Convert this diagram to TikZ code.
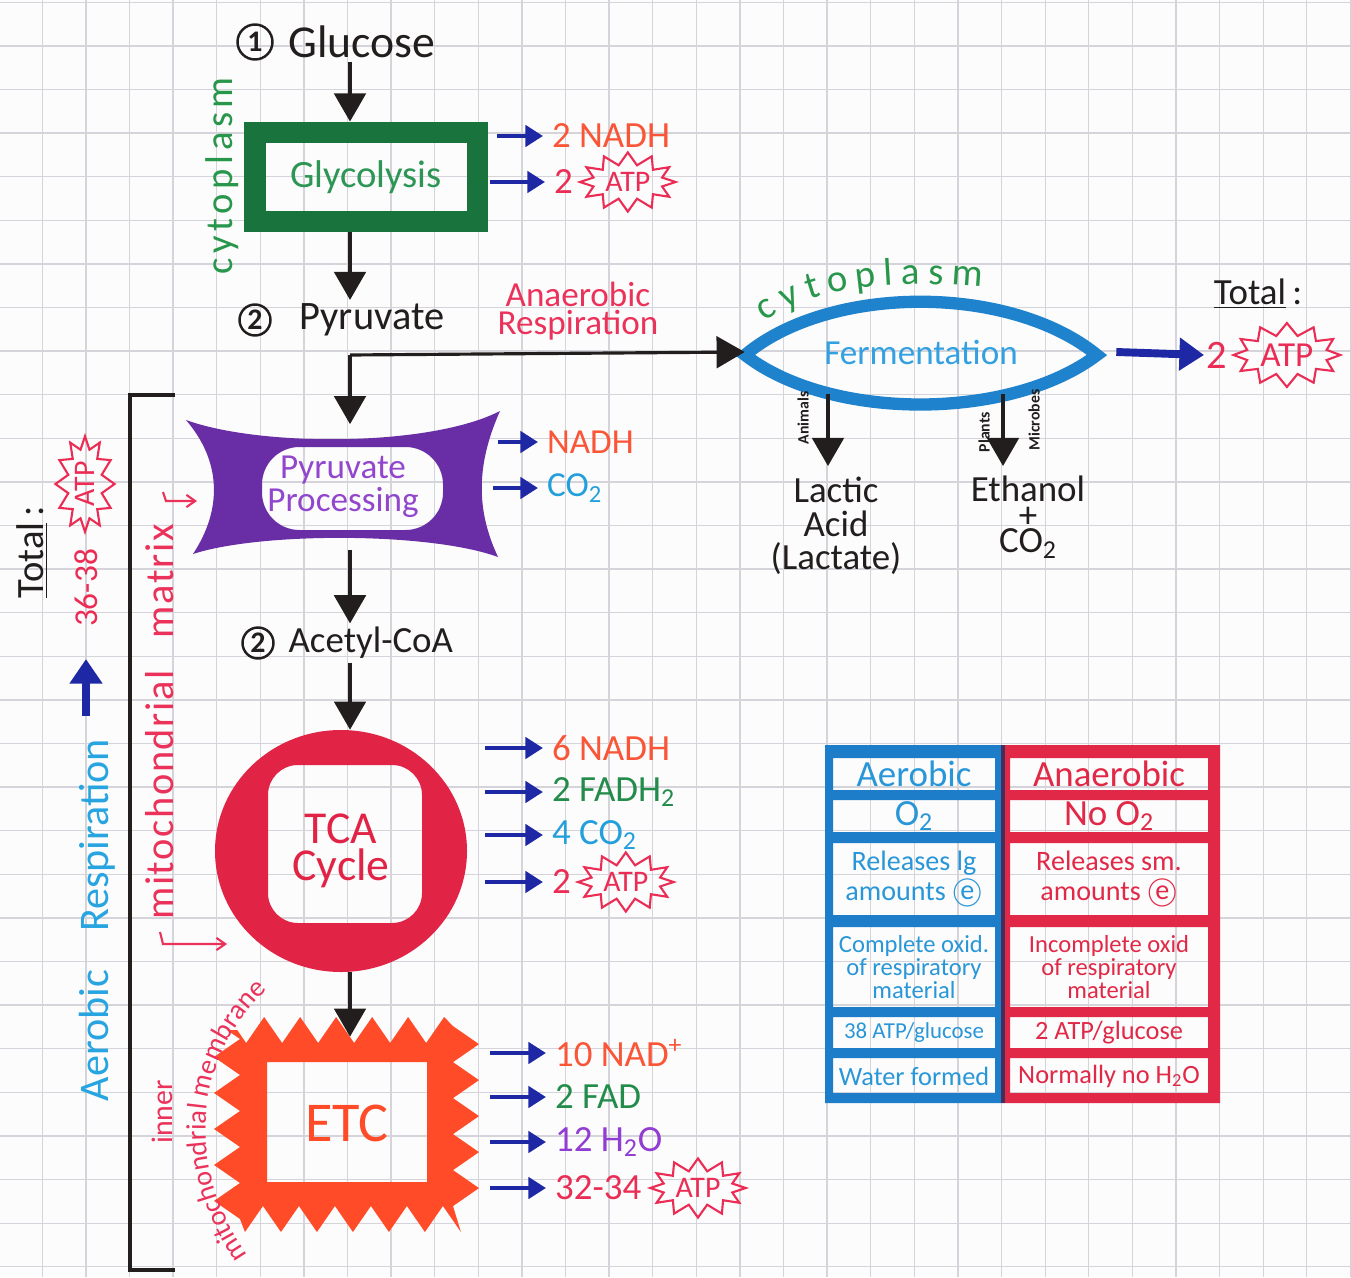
\documentclass[tikz,border=0pt]{standalone}
\usepackage{fontspec}
\setmainfont{Carlito}
\usetikzlibrary{positioning,arrows.meta,shapes.symbols,shapes.geometric,decorations.pathmorphing,decorations.text}

\definecolor{paper}{RGB}{252,252,252}
\definecolor{gridgray}{RGB}{212,212,218}
\definecolor{inkblack}{RGB}{35,30,30}
\definecolor{glydark}{RGB}{25,115,60}
\definecolor{glytext}{RGB}{45,150,85}
\definecolor{cytgreen}{RGB}{40,150,75}
\definecolor{arrowblue}{RGB}{30,40,165}
\definecolor{nadhorange}{RGB}{250,85,55}
\definecolor{atpred}{RGB}{235,45,85}
\definecolor{co2blue}{RGB}{35,160,220}
\definecolor{fadgreen}{RGB}{35,140,75}
\definecolor{h2opurple}{RGB}{145,60,210}
\definecolor{ppurple}{RGB}{105,45,165}
\definecolor{pptext}{RGB}{145,70,205}
\definecolor{tcared}{RGB}{225,35,70}
\definecolor{etcorange}{RGB}{255,75,40}
\definecolor{fermblue}{RGB}{30,130,205}
\definecolor{fermtext}{RGB}{50,160,225}
\definecolor{aerblue}{RGB}{40,165,225}
\definecolor{matred}{RGB}{235,50,90}
\definecolor{tabblue}{RGB}{30,125,200}
\definecolor{tabred}{RGB}{225,40,70}
\definecolor{tabbluetext}{RGB}{40,150,215}
\definecolor{tabmid}{RGB}{70,45,90}

\begin{document}
\begin{tikzpicture}[x=0.02cm, y=-0.02cm,
    font=\fontsize{21}{21}\selectfont,
    gridline/.style={draw=gridgray, line width=0.7pt},
    numcirc/.style={circle, draw=inkblack, line width=1.4pt, inner sep=0pt, minimum size=0.62cm,
      text=inkblack, font=\fontsize{17}{17}\selectfont\bfseries},
    steplbl/.style={text=inkblack, inner sep=2pt},
    flow/.style={draw=inkblack, line width=1.8pt, -{Triangle[length=16pt,width=18pt]}},
    outarrow/.style={draw=arrowblue, line width=2.4pt, shorten >=4pt, -{Triangle[length=10pt,width=12pt]}},
    bigarrow/.style={draw=arrowblue, line width=4.5pt, -{Triangle[length=14pt,width=18pt]}},
    outlbl/.style={anchor=west, inner sep=1pt},
    atpstar/.style={starburst, starburst points=12, starburst point height=7pt, random starburst=0,
      draw=atpred, line width=1.2pt, text=atpred, inner sep=1.5pt, font=\fontsize{17}{17}\selectfont},
    sidetext/.style={rotate=90, inner sep=1pt},
    tinynote/.style={rotate=90, inner sep=0pt, text=inkblack, font=\fontsize{9}{9}\selectfont\bfseries},
    hookarrow/.style={draw=matred, line width=1.2pt, -{Straight Barb[length=5pt,width=7pt]}},
    celltext/.style={align=center, inner sep=0pt}]

  % paper and grid
  \useasboundingbox (0,0) rectangle (1351,1277);
  \fill[paper] (0,0) rectangle (1351,1277);
  \foreach \g in {1,...,31} {\draw[gridline] ({43.6*\g-1.3},0) -- ({43.6*\g-1.3},1277);}
  \foreach \g in {0,...,29} {\draw[gridline] (0,{43.6*\g+2.3}) -- (1351,{43.6*\g+2.3});}

  \coordinate (col) at (350,0);

  % 1 Glucose
  \node[numcirc, minimum size=0.7cm] (n1) at (255,42) {1};
  \node[steplbl, right=0.22cm of n1, font=\fontsize{26}{26}\selectfont] (glucose) {Glucose};

  % Glycolysis box
  \node[draw=glydark, line width=12.5pt, minimum width=4.46cm, minimum height=1.78cm,
    text=glytext, font=\fontsize{22}{22}\selectfont] (gly) at (366,177) {Glycolysis};
  \node[sidetext, text=cytgreen, font=\fontsize{22}{22}\selectfont\addfontfeatures{LetterSpace=12}] (cytleft) at (222,176) {cytoplasm};
  \draw[flow] (glucose.south -| col) -- (gly.north -| col);

  \node[outlbl, text=nadhorange] (glyNADH) at (550,136) {2 NADH};
  \node[outlbl, text=atpred] (glyATP) at (552,182) {2};
  \node[atpstar, right=1pt of glyATP] (glyATPs) {ATP};
  \draw[outarrow, shorten <=0.17cm] (gly.east |- glyNADH) -- (glyNADH);
  \draw[outarrow, shorten <=0.04cm] (gly.east |- glyATP) -- (glyATP);

  % 2 Pyruvate
  \node[numcirc] (n2a) at (255,320) {2};
  \node[steplbl, right=0.48cm of n2a, font=\fontsize{23}{23}\selectfont] (pyr) {Pyruvate};
  \draw[flow] (gly.south -| col) -- (pyr.north -| col);
  \node[text=matred, align=center, font=\fontsize{20}{16}\selectfont] (anresp) at (578,311) {Anaerobic\\Respiration};

  % Fermentation lens
  \draw[fermblue, line width=7pt] (745,355) .. controls (830,284) and (1010,284) .. (1097,355)
    .. controls (1010,421) and (830,421) .. cycle;
  \node[minimum width=7.04cm, minimum height=1.68cm, inner sep=0pt, text=fermtext,
    font=\fontsize{20}{20}\selectfont] (ferm) at (921,352) {Fermentation};
  \path[decorate, decoration={text along path, text align={fit to path},
    text={|\fontsize{22}{22}\selectfont\color{cytgreen}|cytoplasm}}]
    (765,322) .. controls (810,290) and (880,278) .. (982,287);
  \coordinate (split) at (350,355);
  \draw[flow] (split) -- (ferm.west);

  % fermentation products
  \coordinate (lacin) at (828,466);
  \coordinate (ethin) at (1003,466);
  \draw[flow] (ferm.south -| lacin) -- (lacin);
  \draw[flow] (ferm.south -| ethin) -- (ethin);
  \node[tinynote] (animals) at (803,418) {Animals};
  \node[tinynote] (plants) at (984,432) {Plants};
  \node[tinynote] (microbes) at (1034,420) {Microbes};
  \node[align=center, text=inkblack, font=\fontsize{21}{19}\selectfont] (lac) at (836,526) {Lactic\\Acid\\(Lactate)};
  \node[align=center, text=inkblack, font=\fontsize{21}{21}\selectfont] (eth) at (1028,517) {Ethanol\\[-6pt]+\\[-7pt]CO\textsubscript{2}};

  % anaerobic total
  \node[text=inkblack] (fermtotal) at (1258,294) {\underline{Total}\,:};
  \node[outlbl, text=atpred, font=\fontsize{23}{23}\selectfont] (ferm2) at (1204,355) {2};
  \node[atpstar, right=1pt of ferm2, font=\fontsize{20}{20}\selectfont, starburst point height=7pt] (ferm2s) {ATP};
  \draw[bigarrow] ([xshift=0.38cm]ferm.east) -- (ferm2.west);

  % Pyruvate processing
  \fill[ppurple, even odd rule] (186,420) .. controls (260,447) and (430,447) .. (500,411)
    .. controls (476,465) and (476,510) .. (498,557)
    .. controls (430,532) and (260,532) .. (193,554)
    .. controls (222,510) and (222,462) .. cycle
    [rounded corners=0.75cm] (262,447) rectangle (443,530);
  \node[minimum width=6.2cm, minimum height=2.5cm, inner sep=0pt, align=center, text=pptext,
    font=\fontsize{20}{19}\selectfont] (pp) at (343,487) {Pyruvate\\Processing};
  \draw[flow] (split) -- (pp.north -| split);
  \node[outlbl, text=nadhorange, font=\fontsize{20}{20}\selectfont] (ppNADH) at (545,442) {NADH};
  \node[outlbl, text=co2blue, font=\fontsize{20}{20}\selectfont] (ppCO2) at (545,488) {CO\textsubscript{2}};
  \draw[outarrow] (pp.east |- ppNADH) -- (ppNADH);
  \draw[outarrow, shorten <=-0.1cm] (pp.east |- ppCO2) -- (ppCO2);

  % 2 Acetyl-CoA
  \node[numcirc] (n2b) at (258,643) {2};
  \node[steplbl, right=0.2cm of n2b, font=\fontsize{21}{21}\selectfont] (acetyl) {Acetyl-CoA};
  \draw[flow] (pp.south -| col) -- (acetyl.north -| col);

  % TCA cycle
  \fill[tcared, even odd rule] (341,851) ellipse (126 and 121)
    [rounded corners=0.6cm] (268,765) rectangle (422,923);
  \node[ellipse, minimum width=5.04cm, minimum height=4.84cm, inner sep=0pt, align=center,
    text=tcared, font=\fontsize{26}{21}\selectfont] (tca) at (341,851) {TCA\\Cycle};
  \draw[flow] (acetyl.south -| col) -- (tca.north -| col);
  \node[outlbl, text=nadhorange] (tcaNADH) at (550,748) {6 NADH};
  \node[outlbl, text=fadgreen] (tcaFAD) at (550,792) {2 FADH\textsubscript{2}};
  \node[outlbl, text=co2blue] (tcaCO2) at (550,835) {4 CO\textsubscript{2}};
  \node[outlbl, text=atpred] (tcaATP) at (550,882) {2};
  \node[atpstar, right=1pt of tcaATP] (tcaATPs) {ATP};
  \draw[outarrow, shorten <=0.36cm] (tca.east |- tcaNADH) -- (tcaNADH);
  \draw[outarrow, shorten <=0.36cm] (tca.east |- tcaFAD) -- (tcaFAD);
  \draw[outarrow, shorten <=0.36cm] (tca.east |- tcaCO2) -- (tcaCO2);
  \draw[outarrow, shorten <=0.36cm] (tca.east |- tcaATP) -- (tcaATP);

  % ETC
  \fill[etcorange, even odd rule]
    decorate[decoration={zigzag, segment length=0.72cm, amplitude=0.26cm}] {(227,1030) rectangle (466,1219)}
    (267,1062) rectangle (427,1182);
  \node[minimum width=5cm, minimum height=3.44cm, inner sep=0pt, text=etcorange,
    font=\fontsize{32}{32}\selectfont] (etc) at (347,1123) {ETC};
  \draw[flow] (tca.south -| col) -- (etc.north -| col);
  \node[outlbl, text=nadhorange] (etcNAD) at (553,1053) {10 NAD\textsuperscript{+}};
  \node[outlbl, text=fadgreen] (etcFAD) at (553,1097) {2 FAD};
  \node[outlbl, text=h2opurple] (etcH2O) at (553,1142) {12 H\textsubscript{2}O};
  \node[outlbl, text=atpred] (etcATP) at (553,1188) {32-34};
  \node[atpstar, right=2pt of etcATP] (etcATPs) {ATP};
  \draw[outarrow, shorten <=0.36cm] (etc.east |- etcNAD) -- (etcNAD);
  \draw[outarrow, shorten <=0.36cm] (etc.east |- etcFAD) -- (etcFAD);
  \draw[outarrow, shorten <=0.36cm] (etc.east |- etcH2O) -- (etcH2O);
  \draw[outarrow, shorten <=0.36cm] (etc.east |- etcATP) -- (etcATP);

  % aerobic bracket and side labels
  \draw[inkblack, line width=2.3pt] (175,395) -- (130,395) -- (130,1270) -- (175,1270);
  \node[sidetext, text=matred, font=\fontsize{23}{23}\selectfont\addfontfeatures{LetterSpace=4}] (mmatrix) at (160,722) {mitochondrial\hspace{0.8em}matrix};
  \coordinate (mtopa) at (163,492);
  \coordinate (mtopb) at (197,501);
  \coordinate (mbota) at (160,932);
  \coordinate (mbotb) at (227,944);
  \draw[hookarrow] (mtopa) -- (166,501) -- (mtopb);
  \draw[hookarrow] (mbota) -- (163,944) -- (mbotb);
  \node[sidetext, text=matred, font=\fontsize{17}{17}\selectfont] (innerlbl) at (162,1112) {inner};
  \path[decorate, decoration={text along path, text align=center,
    text={|\fontsize{16}{16}\selectfont\color{matred}|mitochondrial membrane}}]
    (262,1274) .. controls (190,1190) and (176,1060) .. (285,975);
  \node[sidetext, text=aerblue, font=\fontsize{24}{24}\selectfont] (aerresp) at (97,920) {Aerobic\hspace{0.9em}Respiration};
  \node[sidetext, text=atpred, font=\fontsize{19}{19}\selectfont] (tot36) at (86,588) {36-38};
  \node[atpstar, rotate=90] (tot36s) at (85,484) {ATP};
  \draw[bigarrow, line width=4pt, shorten <=0.42cm, shorten >=0.6cm] (aerresp.east -| tot36) -- (tot36.west);
  \node[sidetext, text=inkblack, font=\fontsize{22}{22}\selectfont] (totleft) at (32,552) {\underline{Total}\,:};

  % comparison table
  \fill[tabblue, even odd rule] (825,745) rectangle (1003,1103)
    (833,758) rectangle (995,790) (833,800) rectangle (995,832) (833,843) rectangle (995,915)
    (833,927) rectangle (995,1007) (833,1017) rectangle (995,1048) (833,1058) rectangle (995,1093);
  \fill[tabred, even odd rule] (1003,745) rectangle (1220,1103)
    (1010,758) rectangle (1208,790) (1010,800) rectangle (1208,832) (1010,843) rectangle (1208,915)
    (1010,927) rectangle (1208,1007) (1010,1017) rectangle (1208,1048) (1010,1058) rectangle (1208,1093);
  \draw[tabmid, line width=2pt] (1003,745) -- (1003,1103);
  \node[celltext, text=tabbluetext] (aer1) at (914,774) {Aerobic};
  \node[celltext, text=tabbluetext] (aer2) at (914,816) {O\textsubscript{2}};
  \node[celltext, text=tabbluetext, font=\fontsize{16}{17}\selectfont] (aer3) at (914,879) {Releases lg\\amounts \textcircled{e}};
  \node[celltext, text=tabbluetext, font=\fontsize{14}{13}\selectfont] (aer4) at (914,967) {Complete oxid.\\of respiratory\\material};
  \node[celltext, text=tabbluetext, font=\fontsize{13}{13}\selectfont] (aer5) at (914,1033) {38 ATP/glucose};
  \node[celltext, text=tabbluetext, font=\fontsize{15}{15}\selectfont] (aer6) at (914,1076) {Water formed};
  \node[celltext, text=tabred] (ana1) at (1109,774) {Anaerobic};
  \node[celltext, text=tabred] (ana2) at (1109,816) {No O\textsubscript{2}};
  \node[celltext, text=tabred, font=\fontsize{16}{17}\selectfont] (ana3) at (1109,879) {Releases sm.\\amounts \textcircled{e}};
  \node[celltext, text=tabred, font=\fontsize{14}{13}\selectfont] (ana4) at (1109,967) {Incomplete oxid\\of respiratory\\material};
  \node[celltext, text=tabred, font=\fontsize{15}{15}\selectfont] (ana5) at (1109,1033) {2 ATP/glucose};
  \node[celltext, text=tabred, font=\fontsize{15}{15}\selectfont] (ana6) at (1109,1076) {Normally no H\textsubscript{2}O};
\end{tikzpicture}
\end{document}
